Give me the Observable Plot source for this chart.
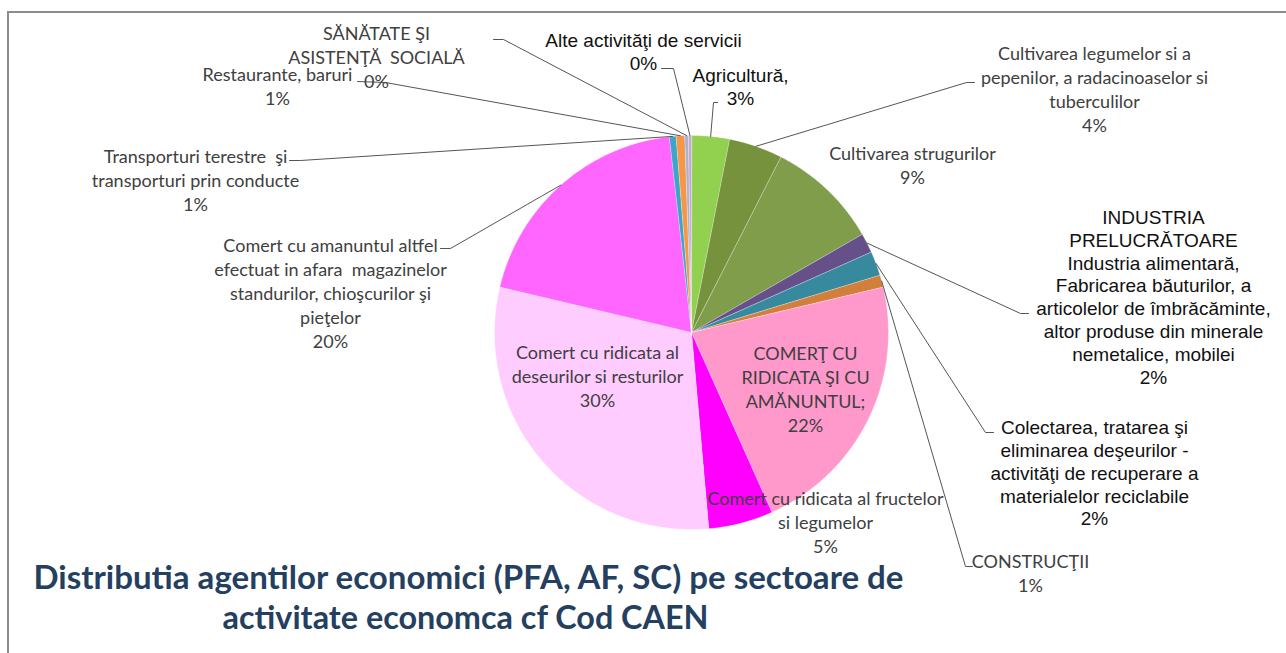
<!DOCTYPE html>
<html><head><meta charset="utf-8">
<script src="https://cdn.jsdelivr.net/npm/d3@7"></script>
<script src="https://cdn.jsdelivr.net/npm/@observablehq/plot@0.6"></script>
<style>
html,body{margin:0;padding:0;background:#fff;}
#wrap{position:relative;width:1286px;height:653px;overflow:hidden;}
#frame{position:absolute;left:7px;top:11px;width:1400px;height:800px;border-left:2px solid #8c8c8c;border-top:2px solid #8c8c8c;pointer-events:none;}
svg text{white-space:pre;}
</style></head><body>
<div id="wrap"><div id="chart"></div><div id="frame"></div></div>
<script>
// ---- data ----
const categories = [
  "Agricultură,",
  "Cultivarea legumelor si a\npepenilor, a radacinoaselor si\ntuberculilor",
  "Cultivarea strugurilor",
  "INDUSTRIA\nPRELUCRĂTOARE\nIndustria alimentară,\nFabricarea băuturilor, a\narticolelor de îmbrăcăminte,\naltor produse din minerale\nnemetalice, mobilei",
  "Colectarea, tratarea şi\neliminarea deşeurilor -\nactivităţi de recuperare a\nmaterialelor reciclabile",
  "CONSTRUCŢII",
  "COMERŢ CU\nRIDICATA ŞI CU\nAMĂNUNTUL;",
  "Comert cu ridicata al fructelor\nsi legumelor",
  "Comert cu ridicata al\ndeseurilor si resturilor",
  "Comert cu amanuntul altfel\nefectuat in afara  magazinelor\nstandurilor, chioşcurilor şi\npieţelor",
  "Transporturi terestre  şi\ntransporturi prin conducte",
  "Restaurante, baruri",
  "SĂNĂTATE ŞI\nASISTENŢĂ  SOCIALĂ",
  "Alte activităţi de servicii"
];
const values = [3.1, 4.4, 9.2, 1.6, 2.0, 1.0, 22.0, 5.3, 30.1, 19.5, 0.55, 0.7, 0.3, 0.25];
const colors = ["#92D050", "#76923C", "#7F9D4A", "#66508A", "#378A9E", "#D27F3C", "#FF99CC", "#FF00FF",
                "#FFCCFF", "#FF66FF", "#3DA6C8", "#F79646", "#A8B4D4", "#C8A8C8"];
const titleLines = ["Distributia agentilor economici (PFA, AF, SC) pe sectoare de", "activitate economca cf Cod CAEN"];

// ---- layout (pixels) ----
const W = 1286, H = 653, CX = 691, CY = 332, R = 197;
const toX = px => (px - CX) / R, toY = py => (CY - py) / R;
// label block centres, font group, and leader line points (label end, elbow)
const labelLayout = [
  {x: 740, y: 86, f: "arial", lead: [[717,102],[713,102]]},
  {x: 1094, y: 88, f: "cal", lead: [[974,82],[966,82]]},
  {x: 912, y: 163.5, f: "cal", lead: null},
  {x: 1153, y: 296, f: "arial", lead: [[1028,313],[1020,313]]},
  {x: 1094, y: 472, f: "arial", lead: [[993,432],[985,432]]},
  {x: 1030, y: 571.5, f: "cal", lead: [[972,566],[965,566]]},
  {x: 805, y: 388, f: "cal", lead: null},
  {x: 825, y: 521, f: "cal", lead: null},
  {x: 597, y: 374.5, f: "cal", lead: null},
  {x: 330, y: 292, f: "cal", lead: [[440,248],[450,248]]},
  {x: 195, y: 178.5, f: "cal", lead: [[289,160],[300,160]]},
  {x: 277, y: 85, f: "cal", lead: [[357,81],[385,82]]},
  {x: 376, y: 56, f: "cal", lead: [[493,39],[503,39]]},
  {x: 643, y: 51, f: "arial", lead: [[661,68],[673,68]]}
];
const titleLayout = [{x: 468, y: 578, len: 870}, {x: 465, y: 618, len: 486}];

// ---- derived geometry through d3.pie ----
const arcs = d3.pie().sort(null).value(d => d)(values);
const total = d3.sum(values);
const polys = [];
arcs.forEach((a, i) => {
  const n = Math.max(2, Math.ceil((a.endAngle - a.startAngle) / (Math.PI / 360)));
  polys.push({k: i, x: 0, y: 0, c: colors[i]});
  for (let j = 0; j <= n; j++) {
    const t = a.startAngle + (a.endAngle - a.startAngle) * j / n;
    polys.push({k: i, x: Math.sin(t), y: Math.cos(t), c: colors[i]});
  }
});
const labels = categories.map((c, i) => ({
  text: c + "\n" + Math.round(values[i] / total * 100) + "%",
  x: toX(labelLayout[i].x), y: toY(labelLayout[i].y), f: labelLayout[i].f
}));
const leaders = [];
arcs.forEach((a, i) => {
  const L = labelLayout[i].lead;
  if (!L) return;
  const m = (a.startAngle + a.endAngle) / 2;
  leaders.push({k: i, x: Math.sin(m), y: Math.cos(m)});
  leaders.push({k: i, x: toX(L[1][0]), y: toY(L[1][1])});
  leaders.push({k: i, x: toX(L[0][0]), y: toY(L[0][1])});
});
const titles = titleLines.map((t, i) => ({text: t, x: toX(titleLayout[i].x), y: toY(titleLayout[i].y)}));

const chart = Plot.plot({
  width: W, height: H, margin: 0,
  x: {domain: [toX(0), toX(W)], axis: null},
  y: {domain: [toY(H), toY(0)], axis: null},
  color: {type: "identity"},
  style: {background: "transparent", overflow: "visible"},
  marks: [
    Plot.line(polys, {x: "x", y: "y", z: "k", fill: "c", stroke: "#ffffff", strokeOpacity: 0.5, strokeWidth: 0.6, curve: "linear-closed"}),
    Plot.line(leaders, {x: "x", y: "y", z: "k", stroke: "#555555", strokeWidth: 1, curve: "linear"}),
    Plot.text(labels.filter(d => d.f === "cal"), {x: "x", y: "y", text: "text", fontFamily: "Lato", fontSize: 18, lineHeight: 1.33, fill: "#404040"}),
    Plot.text(labels.filter(d => d.f === "arial"), {x: "x", y: "y", text: "text", fontFamily: "Liberation Sans, Arial", fontSize: 19, lineHeight: 1.2, fill: "#111111"}),
    Plot.text(titles, {x: "x", y: "y", text: "text", fontFamily: "Lato", fontWeight: "bold", fontSize: 33, fill: "#243F60"})
  ]
});
document.getElementById("chart").appendChild(chart);
// fit title widths
chart.querySelectorAll("text").forEach(el => {
  const idx = titleLines.indexOf(el.textContent);
  if (idx >= 0) {
    el.setAttribute("textLength", titleLayout[idx].len);
    el.setAttribute("lengthAdjust", "spacingAndGlyphs");
  }
});
</script>
</body></html>
